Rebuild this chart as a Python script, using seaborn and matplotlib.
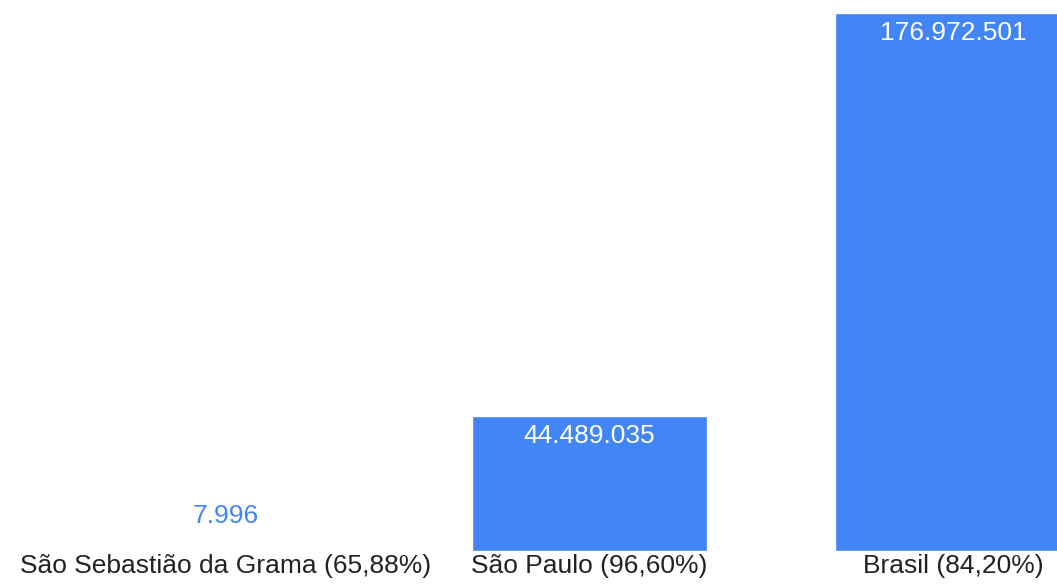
import pandas as pd
import numpy as np
import matplotlib
matplotlib.use('Agg')
import matplotlib.pyplot as plt
import seaborn as sns

# chart data
categories = ['São Sebastião da Grama (65,88%)', 'São Paulo (96,60%)', 'Brasil (84,20%)']
values = [7996, 44489035, 176972501]
value_labels = ['7.996', '44.489.035', '176.972.501']

df = pd.DataFrame({'local': categories, 'total': values})

sns.set_theme(style='white')
plt.rcParams['font.family'] = ['Liberation Sans', 'DejaVu Sans']

bar_color = '#4285F4'

fig = plt.figure(figsize=(10.57, 5.85), dpi=100)
ax = fig.add_axes([0, 0.0581, 1, 0.9197])

sns.barplot(data=df, x='local', y='total', color=bar_color, saturation=1,
            width=0.6465, ax=ax)

ax.set_xlim(-0.6217, 2.2861)
ax.set_ylim(0, max(values))
ax.set_xlabel('')
ax.set_ylabel('')
ax.set_yticks([])
ax.tick_params(axis='x', length=0, pad=2.5, labelsize=19, labelcolor='#222222')
sns.despine(ax=ax, left=True, bottom=True)

# value labels: inside the bar in white, above it in blue when the bar is too small
for i, (v, lab) in enumerate(zip(values, value_labels)):
    if v / max(values) > 0.1:
        ax.annotate(lab, (i, v), xytext=(0, -6), textcoords='offset points',
                    ha='center', va='top', color='white', fontsize=19)
    else:
        ax.annotate(lab, (i, v), xytext=(0, 20), textcoords='offset points',
                    ha='center', va='baseline', color=bar_color, fontsize=19)

fig.savefig('out.png', dpi=100)
